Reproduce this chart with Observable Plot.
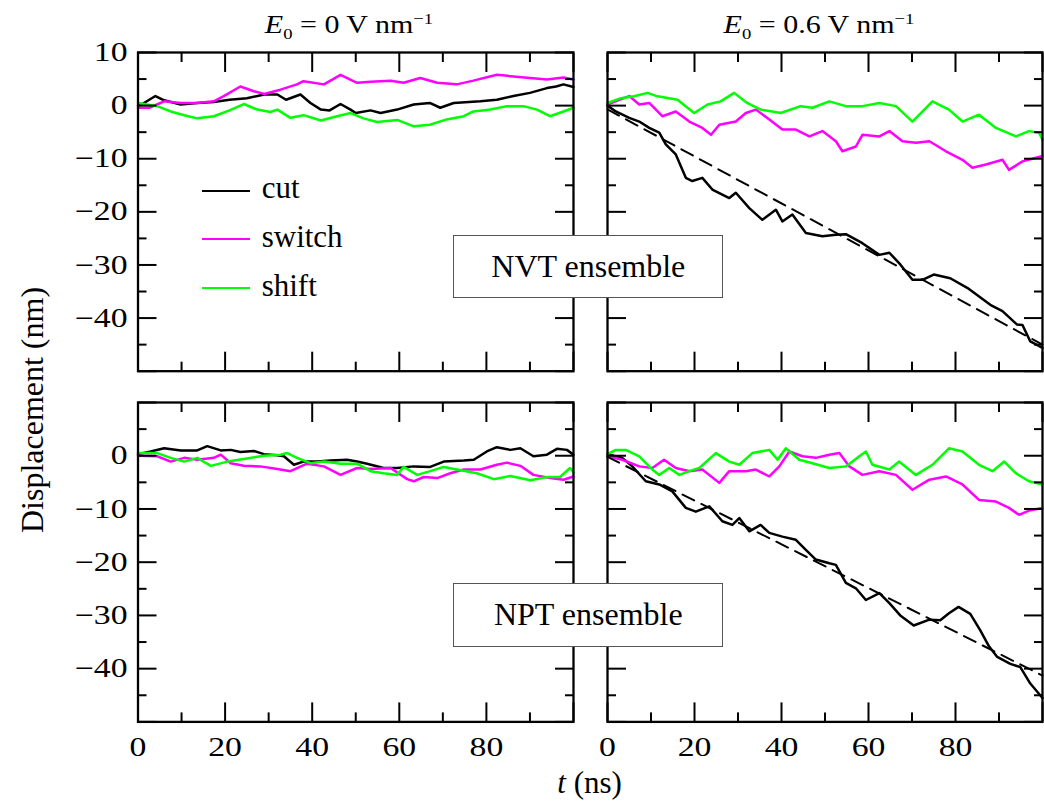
<!DOCTYPE html>
<html><head><meta charset="utf-8">
<script src="https://cdn.jsdelivr.net/npm/d3@7"></script>
<script src="https://cdn.jsdelivr.net/npm/@observablehq/plot@0.6"></script>
<style>
body{margin:0;background:#fff;}
#fig{position:relative;width:1044px;height:802px;overflow:hidden;font-family:"Liberation Serif","Times New Roman",serif;color:#000;background:#fff;}
#fig svg{position:absolute;max-width:none;}
.txt{position:absolute;white-space:nowrap;line-height:normal;}
.sub,.sup{position:relative;font-size:0.62em;line-height:0;vertical-align:baseline;}
.sub{top:0.35em;}
.sup{top:-0.62em;}
.box{position:absolute;background:#fff;border:1.6px solid #555;box-sizing:border-box;display:flex;align-items:center;justify-content:center;font-size:32px;}
.leg{position:absolute;height:2px;}
</style></head><body><div id="fig"></div>
<script>
// ---------- data (t in ns, displacement in nm) ----------
const seriesNames = ["cut", "switch", "shift"];
const seriesColors = ["#000000", "#ff00ff", "#00ff00"];
const panelTitles = ["0", "0.6"];
const ensembleNames = ["NVT ensemble", "NPT ensemble"];

const tickMajorX = [0, 20, 40, 60, 80, 100];
const tickMinorX = [10, 30, 50, 70, 90];
const tickLabelX = [0, 20, 40, 60, 80];
const tickMajorY = [10, 0, -10, -20, -30, -40, -50];
const tickMinorY = [5, -5, -15, -25, -35, -45];
const tickLabelYTop = [10, 0, -10, -20, -30, -40];
const tickLabelYBottom = [0, -10, -20, -30, -40];

// NVT, E0 = 0
const nvt0Cut = [[0,0],[1,0.3],[4,1.8],[6,1.0],[9.8,0.2],[13.6,0.5],[17.4,0.7],[21,1.1],[25,1.4],[29,2.1],[32,2.1],[34,1.1],[37.3,2.1],[39.6,0.5],[42,-0.75],[44,-0.9],[46.5,0.3],[48.8,-0.75],[50,-1.4],[53.4,-0.9],[55.7,-1.4],[59.5,-0.75],[63.3,0.2],[67,0.5],[69.4,-0.4],[72.5,0.5],[78.6,0.8],[82.4,1.1],[86.2,1.8],[90,2.4],[93.9,3.3],[96,3.6],[97.7,4.0],[100,3.5]];
const nvt0Switch = [[0,-0.4],[2.6,-0.4],[6,0.8],[9.8,0.5],[13.6,0.5],[17.4,0.8],[19.7,1.8],[23.5,3.6],[26.6,2.7],[29,2.2],[32.7,3.0],[36.5,4.0],[38,4.6],[42.7,4.0],[46.5,5.8],[50.3,4.3],[53.4,4.5],[58,4.7],[61,4.3],[64.8,5.2],[68.7,4.3],[73.2,4.0],[77,4.7],[82.4,5.8],[86.2,5.5],[90,5.2],[93.9,4.9],[97.7,5.3],[100,4.9]];
const nvt0Shift = [[0,0.5],[4.4,-0.1],[7.5,-1.1],[10.6,-1.8],[13.6,-2.4],[17.4,-2.0],[21,-0.9],[24.3,0.3],[27.4,-0.75],[30.4,-1.2],[32,-0.75],[35,-2.3],[38,-1.8],[42,-2.8],[45.7,-2.0],[48.8,-1.4],[51.8,-2.4],[54.9,-3.1],[59.5,-2.7],[63.3,-3.9],[67,-3.6],[70.9,-2.6],[74.8,-2.0],[77,-1.1],[80.9,-0.75],[84.7,-0.1],[88.5,-0.1],[91.6,-0.75],[94.6,-2.0],[97.7,-1.1],[100,-0.4]];

// NVT, E0 = 0.6
const nvt6Cut = [[0,0],[1.9,-1.1],[5,-2.3],[7.3,-3.0],[9.6,-4.2],[11.9,-5.1],[13.4,-7.3],[15.7,-9.2],[18,-13.6],[19.5,-14.2],[21.8,-13.6],[24.1,-15.8],[28,-17.4],[29.5,-16.4],[32.6,-19.3],[35.6,-21.5],[38.7,-19.6],[40.2,-21.8],[42.5,-20.5],[45.6,-24],[49.4,-24.6],[52.5,-24.3],[54.8,-24.2],[58.6,-25.9],[62.5,-28.1],[64.8,-27.7],[67.3,-29.9],[70.1,-32.8],[72.4,-32.8],[75,-31.8],[78.8,-32.5],[82.7,-34.3],[88,-37.5],[90.8,-38.7],[94.1,-41.2],[95.4,-41.3],[97.2,-44.4],[100,-45.6]];
const nvt6Switch = [[0,0.2],[2.7,1.1],[5,1.8],[7.3,0.2],[9.6,0.5],[12.6,-2.0],[15.7,-1.1],[18.8,-3.0],[21.8,-4.2],[23.8,-5.5],[25.7,-3.6],[29.5,-3.0],[31.8,-1.4],[34.1,-0.75],[37.2,-2.6],[40.2,-4.5],[43.3,-4.5],[46.4,-5.8],[49.4,-4.8],[52.5,-6.7],[54,-8.6],[57.1,-7.7],[58.6,-5.5],[62.5,-5.8],[64.8,-4.8],[67.8,-6.7],[70.9,-7.0],[74,-6.7],[77.8,-8.6],[81.6,-10.2],[83.9,-11.7],[87,-11.1],[90.8,-10.2],[92.3,-12.1],[95.4,-10.5],[100,-9.5]];
const nvt6Shift = [[0,0.5],[3.1,1.4],[6.1,1.75],[9.2,2.4],[11.5,1.75],[16.1,1.1],[19.9,-1.4],[23,0.2],[26,0.8],[29.1,2.4],[32.1,0.5],[35.2,-0.75],[39.8,-1.4],[44.4,-0.1],[47.1,-0.4],[51,0.8],[54.8,-0.1],[58.6,-0.1],[62.5,0.5],[66.3,-0.1],[70.1,-3.0],[74.7,0.8],[78.5,-0.75],[81.6,-3.0],[85.4,-1.7],[89.3,-4.2],[93.9,-5.8],[96.9,-4.8],[99.2,-5.1],[100,-6.4]];
const nvt6Fit = [[0,-0.7],[100,-45]];

// NPT, E0 = 0
const npt0Cut = [[0,0.3],[2.9,0.8],[6,1.4],[9.8,1.0],[13.6,1.0],[15.9,1.8],[19,1.0],[21.3,1.1],[23.5,0.7],[26.6,0.9],[28.9,0.3],[32,0.1],[33.5,-0.1],[35.8,-1.7],[38,-1.1],[41.1,-1.1],[44.2,-0.9],[48,-0.75],[50.3,-1.1],[52.6,-1.5],[56.4,-2.3],[59.5,-2.3],[63.3,-2.0],[67.1,-2.1],[70.2,-1.1],[74.8,-0.9],[77.1,-0.75],[80.1,0.8],[82.4,1.6],[85.5,1.1],[87.8,1.4],[90.8,-0.1],[93.9,0.2],[96.2,1.3],[98.5,1.1],[100,0.2]];
const npt0Switch = [[0,0],[4.4,-0.1],[7.5,-1.1],[10.6,-0.4],[13.6,-0.75],[17.4,-0.4],[19,0.2],[21.3,-1.4],[24.3,-1.9],[28.1,-2.0],[32,-2.5],[35,-2.9],[38.8,-1.5],[42.7,-2.0],[46.5,-3.6],[50.3,-2.3],[53.4,-2.5],[58,-2.3],[61.8,-4.4],[63.3,-4.8],[65.6,-4.0],[68.7,-4.2],[71.7,-3.3],[74.8,-2.6],[78.6,-2.6],[82.4,-1.7],[84.7,-1.3],[87.8,-1.9],[90.8,-3.6],[94.6,-4.2],[97.7,-4.5],[100,-3.9]];
const npt0Shift = [[0,0.5],[4.4,0.5],[7.5,-0.4],[10.6,-1.1],[13.6,-0.4],[16.7,-1.9],[20.5,-1.1],[24.3,-0.6],[28.9,0],[32.7,0.2],[34.3,0.5],[36.5,-0.4],[39.6,-1.4],[42.7,-1.1],[46.5,-1.5],[50.3,-1.5],[53.4,-2.9],[56.4,-3.3],[59.5,-3.6],[61,-2.1],[64.1,-3.6],[67.1,-2.9],[70.2,-2.1],[73.2,-2.6],[77.8,-3.3],[81.7,-4.4],[85.5,-3.8],[90.1,-4.6],[93.9,-4.0],[96.9,-4.0],[99.2,-2.3],[100,-3.1]];

// NPT, E0 = 0.6
const npt6Cut = [[0,0.3],[3.4,-0.4],[5.7,-2.0],[8.8,-4.8],[11.9,-5.4],[14.9,-6.7],[18,-9.8],[20.3,-10.5],[23.4,-9.5],[26.4,-12.3],[28.7,-13.0],[30.3,-11.7],[32.6,-14.2],[35.2,-13.0],[37.2,-14.5],[40.2,-15.2],[43.3,-15.8],[45.6,-17.7],[47.9,-19.5],[51,-20.2],[52.5,-20.5],[54.8,-23.9],[57.1,-24.9],[59.4,-27.1],[62.5,-25.8],[64.8,-27.7],[67.3,-30.0],[70.4,-31.9],[74,-30.8],[76.5,-30.9],[78.5,-29.6],[80.7,-28.4],[83.4,-29.7],[85.7,-32.8],[87.7,-35.8],[89.6,-37.8],[92.6,-39.1],[94.9,-39.7],[97.2,-42.8],[100,-45.5]];
const npt6Switch = [[0,-0.1],[3.4,-0.75],[7.3,-2.0],[10.3,-2.3],[13,-0.75],[15.7,-2.3],[18.8,-2.9],[21.8,-2.6],[25.7,-5.1],[28,-2.9],[31.8,-2.9],[34.1,-2.6],[37.2,-3.9],[39.5,-2.0],[41.8,0.8],[44.8,-0.1],[47.9,-0.4],[51,0.2],[53.3,0.5],[55.6,-2.0],[58.6,-3.6],[62.5,-2.9],[66.3,-3.6],[70.1,-6.4],[74,-4.5],[77.8,-3.9],[81.6,-5.4],[85.4,-8.3],[89.3,-8.6],[92.3,-9.8],[94.6,-11.1],[96.9,-10.3],[100,-9.8]];
const npt6Shift = [[0,0.3],[1.9,1.1],[4.2,1.1],[7.3,-0.1],[10.3,-2.6],[11.9,-3.6],[14.2,-2.3],[16.5,-3.6],[18.8,-2.9],[21.1,-2.3],[24.9,0.5],[28,-1.1],[30.3,-1.7],[33.3,0.5],[37.2,1.1],[39.1,-0.75],[41,1.4],[44.1,-0.75],[47.1,-1.4],[51,-2.3],[54.8,-2.0],[57.9,-0.1],[59.4,0.8],[60.9,-1.7],[64.8,-2.6],[67,-1.1],[70.9,-3.6],[74.7,-1.7],[78.5,1.4],[81.6,0.8],[85.4,-1.7],[88.5,-2.9],[91.2,-1.1],[93.9,-3.3],[96.9,-4.8],[100,-5.4]];
const npt6Fit = [[0,-0.2],[100,-41.3]];

// ---------- layout ----------
const fig = document.getElementById("fig");
const GEO = {L1: 137.5, R1: 573, L2: 606.7, R2: 1041.7, T1: 52.3, B1: 371, T2: 402.3, B2: 721.7};
const TICK_STRETCH = 1.25;
const fmt = d => d < 0 ? "\u2212" + Math.abs(d) : String(d);
const isNum = v => v !== null && v !== "" && /^-?[\d.]+$/.test(v);

function panel({L, R, T, B, showY, showX, yLabels, lines, fit}) {
  const mL = showY ? L : 12, mR = 12, mT = 12, mB = showX ? 60 : 12;
  const width = (R - L) + mL + mR, height = (B - T) + mT + mB;
  const marks = [];
  lines.forEach((s, i) => marks.push(Plot.line(s, {x: d => d[0], y: d => d[1], stroke: seriesColors[i], strokeWidth: 2.5})));
  if (fit) marks.push(Plot.line(fit, {x: d => d[0], y: d => d[1], stroke: "#000", strokeWidth: 2, strokeDasharray: "13,8"}));
  marks.push(Plot.frame({stroke: "#000", strokeWidth: 2.3}));
  for (const anchor of ["top", "bottom"]) {
    marks.push(Plot.axisX(tickMajorX, {anchor, tickSize: -19, strokeWidth: 2, fill: "none", label: null}));
    marks.push(Plot.axisX(tickMinorX, {anchor, tickSize: -9, strokeWidth: 2, fill: "none", label: null}));
  }
  for (const anchor of ["left", "right"]) {
    marks.push(Plot.axisY(tickMajorY, {anchor, tickSize: -19, strokeWidth: 2, fill: "none", label: null}));
    marks.push(Plot.axisY(tickMinorY, {anchor, tickSize: -9, strokeWidth: 2, fill: "none", label: null}));
  }
  if (showY) marks.push(Plot.axisY(yLabels, {anchor: "left", tickSize: 0, tickPadding: 10.5, tickFormat: fmt, label: null, stroke: "none"}));
  if (showX) marks.push(Plot.axisX(tickLabelX, {anchor: "bottom", tickSize: 0, tickPadding: 15, tickFormat: fmt, label: null, stroke: "none"}));
  const svg = Plot.plot({
    width, height, marginLeft: mL, marginRight: mR, marginTop: mT, marginBottom: mB,
    x: {domain: [0, 100], axis: null},
    y: {domain: [-50, 10], axis: null},
    style: {fontFamily: "'Liberation Serif','Times New Roman',serif", fontSize: "27px", color: "#000", background: "transparent", overflow: "visible"},
    marks
  });
  // widen the tick-label glyphs horizontally (reference typeface is wider), keeping anchor points
  svg.querySelectorAll("text").forEach(t => {
    const tr = t.getAttribute("transform") || "";
    const xa = t.getAttribute("x");
    let pre = "";
    if (isNum(xa)) { pre = ` translate(${+xa},0)`; t.setAttribute("x", 0); }
    t.setAttribute("transform", `${tr}${pre} scale(${TICK_STRETCH},1)`);
  });
  svg.style.left = (L - mL) + "px";
  svg.style.top = (T - mT) + "px";
  fig.appendChild(svg);
}

panel({L: GEO.L1, R: GEO.R1, T: GEO.T1, B: GEO.B1, showY: true, showX: false, yLabels: tickLabelYTop, lines: [nvt0Cut, nvt0Switch, nvt0Shift]});
panel({L: GEO.L2, R: GEO.R2, T: GEO.T1, B: GEO.B1, showY: false, showX: false, lines: [nvt6Cut, nvt6Switch, nvt6Shift], fit: nvt6Fit});
panel({L: GEO.L1, R: GEO.R1, T: GEO.T2, B: GEO.B2, showY: true, showX: true, yLabels: tickLabelYBottom, lines: [npt0Cut, npt0Switch, npt0Shift]});
panel({L: GEO.L2, R: GEO.R2, T: GEO.T2, B: GEO.B2, showY: false, showX: true, lines: [npt6Cut, npt6Switch, npt6Shift], fit: npt6Fit});

// ---------- text overlays ----------
function addText(html, cx, baseline, size, sx = 1) {
  const d = document.createElement("div");
  d.className = "txt";
  d.style.fontSize = size + "px";
  d.innerHTML = html;
  d.style.top = (baseline - 0.891 * size) + "px";
  d.style.left = cx + "px";
  d.style.transform = `translateX(-50%) scaleX(${sx})`;
  fig.appendChild(d);
  return d;
}
addText(`<i>E</i><span class="sub">0</span> = ${panelTitles[0]} V nm<span class="sup">\u22121</span>`, 349, 33.5, 25, 1.2);
addText(`<i>E</i><span class="sub">0</span> = ${panelTitles[1]} V nm<span class="sup">\u22121</span>`, 819, 33.5, 25, 1.2);
addText(`<i>t</i> (ns)`, (GEO.L1 + GEO.R2) / 2, 793, 31);

// y-axis title (rotated)
const yl = document.createElement("div");
yl.className = "txt";
yl.style.fontSize = "32px";
yl.textContent = "Displacement (nm)";
yl.style.left = "32px";
yl.style.top = "410px";
yl.style.transform = "translate(-50%,-50%) rotate(-90deg)";
fig.appendChild(yl);

// legend
const legendY = [191, 239.3, 288.3];
seriesNames.forEach((name, i) => {
  const ln = document.createElement("div");
  ln.className = "leg";
  ln.style.background = seriesColors[i];
  ln.style.left = "201.7px";
  ln.style.width = "48.3px";
  ln.style.top = (legendY[i] - 1) + "px";
  fig.appendChild(ln);
  const t = document.createElement("div");
  t.className = "txt";
  t.style.fontSize = "31px";
  t.textContent = name;
  t.style.left = "261.7px";
  t.style.top = (legendY[i] + 7 - 0.891 * 31) + "px";
  fig.appendChild(t);
});

// ensemble boxes
const boxTops = [[235, 297.7], [582.7, 646.7]];
ensembleNames.forEach((name, i) => {
  const b = document.createElement("div");
  b.className = "box";
  b.style.left = "453.3px";
  b.style.width = (723.3 - 453.3) + "px";
  b.style.top = boxTops[i][0] + "px";
  b.style.height = (boxTops[i][1] - boxTops[i][0]) + "px";
  b.textContent = name;
  fig.appendChild(b);
});
</script></body></html>
